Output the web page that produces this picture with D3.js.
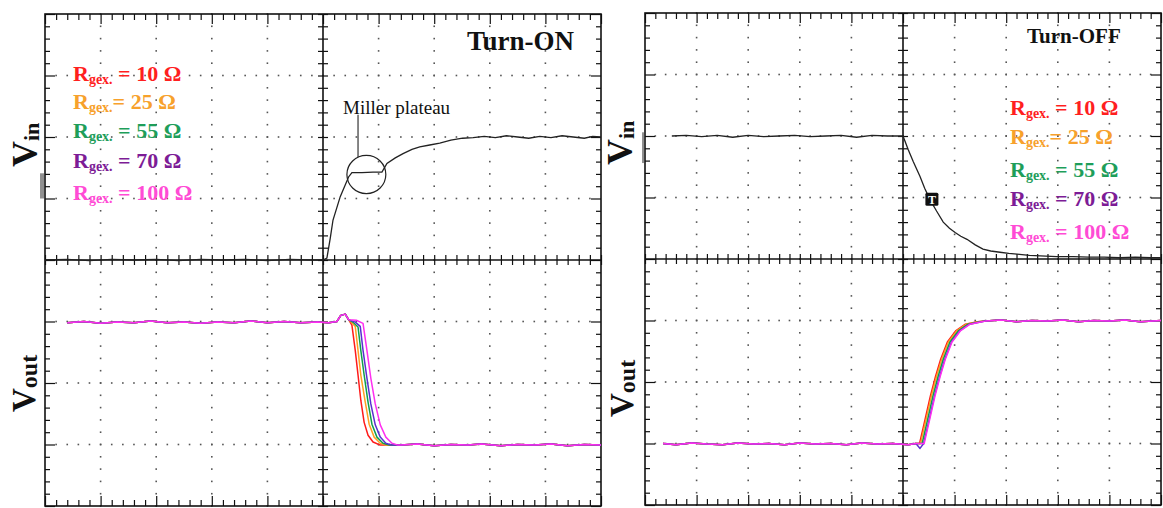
<!DOCTYPE html>
<html>
<head>
<meta charset="utf-8">
<script src="https://cdn.jsdelivr.net/npm/d3@7"></script>
<style>
  html, body { margin: 0; padding: 0; background: #fff; }
  svg { display: block; }
  text { font-family: "Liberation Serif", "Times New Roman", serif; }
</style>
</head>
<body>
<svg id="chart" width="1163" height="508"></svg>
<script>
// ---- Data (time and voltage in screen divisions) ----
const gateResistors = ["10", "25", "55", "70", "100"];
const legendEquals  = [" = ", "= ", " = ", " = ", " = "];
const legendColors  = ["#ff1f1f", "#f7a12c", "#1e9e5a", "#7d1c96", "#ff4bd5"];
const traceColors   = ["#ff1a1a", "#ff9f22", "#109e4c", "#5b2fd0", "#ff2ef0"];

// Gate drive voltage, turn-on
const vinTurnOn = [[0.00,0.00],[0.40,0.01],[0.80,-0.01],[1.20,0.01],[1.60,0.00],[2.00,0.01],[2.40,-0.01],
  [2.80,0.01],[3.20,0.00],[3.60,0.01],[4.00,-0.01],[4.40,0.01],[4.80,0.00],[5.00,0.00],[5.07,0.03],
  [5.13,0.35],[5.18,0.65],[5.31,1.03],[5.46,1.35],[5.52,1.42],[5.70,1.42],[5.90,1.43],[6.06,1.43],
  [6.15,1.57],[6.30,1.66],[6.44,1.73],[6.60,1.80],[6.74,1.84],[6.92,1.87],[7.10,1.90],[7.30,1.95],
  [7.51,1.98],[7.70,1.99],[7.90,2.01],[8.10,1.99],[8.30,2.02],[8.50,2.00],[8.70,1.98],[8.90,2.01],
  [9.10,1.99],[9.30,2.02],[9.50,2.00],[9.70,1.98],[9.85,2.01],[10.00,2.00]];

// Gate drive voltage, turn-off
const vinTurnOff = [[0.52,2.00],[0.80,2.01],[1.10,1.99],[1.40,2.01],[1.70,1.98],[2.00,2.01],[2.30,1.99],
  [2.60,2.00],[2.90,2.01],[3.20,1.99],[3.50,2.00],[3.80,2.01],[4.10,1.98],[4.40,2.01],[4.70,2.00],
  [5.00,2.00],[5.10,1.78],[5.20,1.58],[5.33,1.34],[5.42,1.15],[5.52,0.97],[5.65,0.78],[5.78,0.60],
  [5.90,0.50],[6.01,0.43],[6.12,0.37],[6.24,0.32],[6.40,0.23],[6.55,0.16],[6.70,0.13],[6.88,0.11],
  [7.05,0.09],[7.21,0.08],[7.45,0.06],[7.66,0.05],[7.98,0.04],[8.30,0.04],[8.60,0.03],[8.90,0.03],
  [9.20,0.02],[9.50,0.03],[9.80,0.02],[10.00,0.02]];

// Output voltage, turn-on: common high level, per-resistor falling edge, common low level
const voutOnBefore = [[0.40,-1.02],[0.70,-1.00],[1.00,-1.03],[1.30,-1.01],[1.60,-1.02],[1.90,-0.99],
  [2.20,-1.02],[2.50,-1.01],[2.80,-1.03],[3.10,-1.01],[3.40,-1.02],[3.70,-0.99],[4.00,-1.02],
  [4.30,-1.00],[4.60,-1.02],[4.90,-1.01],[5.10,-1.02],[5.25,-1.00],[5.32,-0.90],[5.40,-0.88],[5.46,-0.97]];
const voutOnEdges = [
  [[5.52,-1.06],[5.58,-1.47],[5.63,-1.87],[5.68,-2.28],[5.74,-2.64],[5.81,-2.85],[5.90,-2.96],[6.03,-3.01]],
  [[5.52,-1.02],[5.58,-1.08],[5.63,-1.47],[5.68,-1.87],[5.76,-2.31],[5.83,-2.67],[5.92,-2.88],[6.03,-2.98],[6.13,-3.01]],
  [[5.55,-1.02],[5.63,-1.09],[5.68,-1.47],[5.74,-1.87],[5.81,-2.31],[5.88,-2.67],[5.97,-2.88],[6.08,-2.98],[6.19,-3.01]],
  [[5.58,-1.01],[5.67,-1.08],[5.72,-1.47],[5.79,-1.92],[5.86,-2.34],[5.94,-2.68],[6.03,-2.88],[6.13,-2.98],[6.24,-3.01]],
  [[5.60,-0.98],[5.72,-1.03],[5.79,-1.47],[5.86,-1.92],[5.94,-2.34],[6.03,-2.68],[6.13,-2.88],[6.24,-2.98],[6.35,-3.01]]
];
const voutOnAfter = [[6.40,-3.01],[6.70,-2.99],[7.00,-3.02],[7.30,-3.00],[7.60,-3.01],[7.85,-2.99],
  [8.20,-3.02],[8.50,-3.00],[8.80,-3.01],[9.10,-2.99],[9.40,-3.02],[9.70,-3.00],[10.00,-3.01]];

// Output voltage, turn-off: common low level, per-resistor rising edge, common high level
const voutOffBefore = [[0.35,-3.00],[0.60,-3.02],[0.90,-2.99],[1.20,-3.01],[1.50,-3.02],[1.80,-2.99],
  [2.10,-3.01],[2.40,-3.00],[2.70,-3.02],[3.00,-2.99],[3.30,-3.01],[3.60,-3.00],[3.90,-3.02],
  [4.20,-2.99],[4.50,-3.01],[4.80,-3.00],[5.10,-3.02],[5.25,-3.00]];
const voutOffEdges = [
  [[5.32,-3.00],[5.34,-2.93],[5.43,-2.60],[5.53,-2.23],[5.63,-1.91],[5.73,-1.63],[5.86,-1.35],[6.02,-1.17],[6.21,-1.06],[6.44,-1.02]],
  [[5.34,-3.00],[5.36,-2.93],[5.45,-2.60],[5.55,-2.23],[5.65,-1.91],[5.75,-1.63],[5.88,-1.35],[6.04,-1.17],[6.23,-1.06],[6.46,-1.02]],
  [[5.37,-3.00],[5.39,-2.93],[5.48,-2.60],[5.58,-2.23],[5.68,-1.91],[5.78,-1.63],[5.91,-1.35],[6.07,-1.17],[6.26,-1.06],[6.49,-1.02]],
  [[5.33,-3.08],[5.40,-3.00],[5.42,-2.93],[5.51,-2.60],[5.61,-2.23],[5.71,-1.91],[5.81,-1.63],[5.94,-1.35],[6.10,-1.17],[6.29,-1.06],[6.52,-1.02]],
  [[5.41,-3.00],[5.43,-2.93],[5.52,-2.60],[5.62,-2.23],[5.72,-1.91],[5.82,-1.63],[5.95,-1.35],[6.11,-1.17],[6.30,-1.06],[6.53,-1.02]]
];
const voutOffAfter = [[6.60,-1.01],[6.90,-0.99],[7.20,-1.02],[7.50,-1.00],[7.80,-1.01],[8.10,-0.99],
  [8.40,-1.02],[8.70,-1.00],[9.00,-1.01],[9.30,-0.99],[9.60,-1.02],[10.00,-1.00]];

// Annotation anchors (divisions)
const millerPlateau = { t: 5.78, v: 1.39, rt: 0.35, rv: 0.31, leaderT: 5.63, labelV: 2.36 };
const cursorMarker  = { t: 5.56, v: 0.97 };

// ---- Layout ----
const svg = d3.select("#chart");
const panels = [
  { id: "on",  x0: 45,  x1: 601,  y0: 14, y1: 506 },
  { id: "off", x0: 645, x1: 1161, y0: 13, y1: 505 }
];
panels.forEach(p => {
  p.x = d3.scaleLinear().domain([0, 10]).range([p.x0, p.x1]);
  p.y = d3.scaleLinear().domain([-4, 4]).range([p.y1, p.y0]);
});

const minorX = d3.range(0, 51).map(k => k / 5);
const minorY = d3.range(-20, 21).map(k => k / 5);
const majorX = d3.range(0, 11);
const majorY = d3.range(-4, 5);

function tickAxis(g, axis, values, size) {
  g.call(axis.tickValues(values).tickSize(size).tickSizeOuter(0).tickFormat(""))
   .call(s => s.select(".domain").remove())
   .call(s => s.selectAll("line").attr("stroke", "#111").attr("stroke-width", 1.2));
}

function drawFrame(p) {
  const g = svg.append("g");
  const { x, y } = p;

  // dotted graticule
  const dots = [];
  majorX.filter(d => d > 0 && d < 10 && d !== 5).forEach(xv =>
    minorY.forEach(yv => dots.push([xv, yv])));
  majorY.filter(d => d > -4 && d < 4 && d !== 0).forEach(yv =>
    minorX.forEach(xv => { if (xv > 0 && xv < 10) dots.push([xv, yv]); }));
  g.append("g").selectAll("rect").data(dots).join("rect")
    .attr("x", d => x(d[0]) - 0.8).attr("y", d => y(d[1]) - 0.8)
    .attr("width", 1.6).attr("height", 1.6).attr("fill", "#555");

  // border ticks
  const minorOnlyX = minorX.filter(v => Math.abs(v - Math.round(v)) > 1e-6);
  const minorOnlyY = minorY.filter(v => Math.abs(v - Math.round(v)) > 1e-6);
  tickAxis(g.append("g").attr("transform", `translate(0,${p.y0})`), d3.axisBottom(x), minorOnlyX, 6);
  tickAxis(g.append("g").attr("transform", `translate(0,${p.y0})`), d3.axisBottom(x), majorX, 10);
  tickAxis(g.append("g").attr("transform", `translate(0,${p.y1})`), d3.axisTop(x), minorOnlyX, 6);
  tickAxis(g.append("g").attr("transform", `translate(0,${p.y1})`), d3.axisTop(x), majorX, 10);
  tickAxis(g.append("g").attr("transform", `translate(${p.x0},0)`), d3.axisRight(y), minorOnlyY, 5);
  tickAxis(g.append("g").attr("transform", `translate(${p.x0},0)`), d3.axisRight(y), majorY, 10);
  tickAxis(g.append("g").attr("transform", `translate(${p.x1},0)`), d3.axisLeft(y), minorOnlyY, 5);
  tickAxis(g.append("g").attr("transform", `translate(${p.x1},0)`), d3.axisLeft(y), majorY, 10);

  // centre axes with crossing ticks
  tickAxis(g.append("g").attr("transform", `translate(0,${y(0)})`), d3.axisTop(x), minorX, 5);
  tickAxis(g.append("g").attr("transform", `translate(0,${y(0)})`), d3.axisBottom(x), minorX, 5);
  tickAxis(g.append("g").attr("transform", `translate(${x(5)},0)`), d3.axisLeft(y), minorY, 5);
  tickAxis(g.append("g").attr("transform", `translate(${x(5)},0)`), d3.axisRight(y), minorY, 5);

  g.append("line").attr("x1", p.x0).attr("x2", p.x1).attr("y1", y(0)).attr("y2", y(0))
    .attr("stroke", "#111").attr("stroke-width", 1.6);
  g.append("line").attr("x1", x(5)).attr("x2", x(5)).attr("y1", p.y0).attr("y2", p.y1)
    .attr("stroke", "#111").attr("stroke-width", 1.6);
  g.append("rect").attr("x", p.x0).attr("y", p.y0)
    .attr("width", p.x1 - p.x0).attr("height", p.y1 - p.y0)
    .attr("fill", "none").attr("stroke", "#111").attr("stroke-width", 1.6);
}

panels.forEach(drawFrame);

function lineFor(p) {
  return d3.line().x(d => p.x(d[0])).y(d => p.y(d[1]));
}

// clip traces to each screen
panels.forEach(p => {
  svg.append("clipPath").attr("id", "clip-" + p.id)
    .append("rect").attr("x", p.x0).attr("y", p.y0)
    .attr("width", p.x1 - p.x0).attr("height", p.y1 - p.y0);
});

const [pOn, pOff] = panels;

// Vout traces
const gOnTr = svg.append("g").attr("clip-path", "url(#clip-on)");
voutOnEdges.forEach((edge, i) => {
  gOnTr.append("path")
    .attr("d", lineFor(pOn)(voutOnBefore.concat(edge, voutOnAfter)))
    .attr("fill", "none").attr("stroke", traceColors[i]).attr("stroke-width", 1.5)
    .attr("stroke-linejoin", "round");
});
const gOffTr = svg.append("g").attr("clip-path", "url(#clip-off)");
voutOffEdges.forEach((edge, i) => {
  gOffTr.append("path")
    .attr("d", lineFor(pOff)(voutOffBefore.concat(edge, voutOffAfter)))
    .attr("fill", "none").attr("stroke", traceColors[i]).attr("stroke-width", 1.5)
    .attr("stroke-linejoin", "round");
});

// Vin traces
gOnTr.append("path").attr("d", lineFor(pOn)(vinTurnOn))
  .attr("fill", "none").attr("stroke", "#222").attr("stroke-width", 1.3);
gOffTr.append("path").attr("d", lineFor(pOff)(vinTurnOff))
  .attr("fill", "none").attr("stroke", "#222").attr("stroke-width", 1.3);

// Miller plateau annotation
const mcx = pOn.x(millerPlateau.t), mcy = pOn.y(millerPlateau.v);
const mrx = pOn.x(millerPlateau.t + millerPlateau.rt) - mcx;
const mry = pOn.y(millerPlateau.v - millerPlateau.rv) - mcy;
svg.append("ellipse").attr("cx", mcx).attr("cy", mcy).attr("rx", mrx).attr("ry", mry)
  .attr("fill", "none").attr("stroke", "#222").attr("stroke-width", 1.2);
const lx = pOn.x(millerPlateau.leaderT);
svg.append("line").attr("x1", lx).attr("x2", lx)
  .attr("y1", mcy - Math.sqrt(Math.max(0, 1 - ((lx - mcx) / mrx) ** 2)) * mry)
  .attr("y2", pOn.y(millerPlateau.labelV))
  .attr("stroke", "#222").attr("stroke-width", 1.1);
svg.append("text").attr("x", lx - 15).attr("y", pOn.y(millerPlateau.labelV) - 1)
  .attr("font-size", 19).attr("fill", "#111").text("Miller plateau");

// cursor marker on the turn-off gate trace
const cmx = pOff.x(cursorMarker.t), cmy = pOff.y(cursorMarker.v);
svg.append("rect").attr("x", cmx - 6.5).attr("y", cmy - 6.5).attr("width", 13).attr("height", 13)
  .attr("rx", 1.5).attr("fill", "#111");
svg.append("text").attr("x", cmx).attr("y", cmy + 4.5).attr("text-anchor", "middle")
  .attr("font-family", "Liberation Sans, Arial, sans-serif").attr("font-weight", "bold")
  .attr("font-size", 12).attr("fill", "#fff").text("T");

// channel offset markers beside the screens
[[pOn, 1.41, 1.0, [-4, -2]], [pOff, 2.06, 1.56, [-2]]].forEach(([p, a, b, offs]) => {
  offs.forEach(o => svg.append("line").attr("x1", p.x0 + o).attr("x2", p.x0 + o)
    .attr("y1", p.y(a)).attr("y2", p.y(b)).attr("stroke", "#222").attr("stroke-width", 1));
});

// titles
svg.append("text").attr("x", 467).attr("y", 50).attr("font-size", 27).attr("font-weight", "bold")
  .attr("fill", "#111").text("Turn-ON");
svg.append("text").attr("x", 1027).attr("y", 43).attr("font-size", 21).attr("font-weight", "bold")
  .attr("fill", "#111").text("Turn-OFF");

// channel labels
function channelLabel(x, y, main, sub, mainSize, subSize) {
  const t = svg.append("text").attr("transform", `translate(${x},${y}) rotate(-90)`)
    .attr("font-weight", "bold").attr("fill", "#111");
  t.append("tspan").attr("font-size", mainSize).text(main);
  t.append("tspan").attr("font-size", subSize).attr("dy", 2).text(sub);
}
channelLabel(37, 167, "V", "in", 36, 22);
channelLabel(35, 412, "V", "out", 33, 24);
channelLabel(632, 165, "V", "in", 36, 22);
channelLabel(633, 417, "V", "out", 33, 24);

// legends
function legend(x, baselines, size, subSize) {
  gateResistors.forEach((r, i) => {
    const t = svg.append("text").attr("x", x).attr("y", baselines[i])
      .attr("font-weight", "bold").attr("font-size", size).attr("fill", legendColors[i]);
    t.append("tspan").text("R");
    t.append("tspan").attr("font-size", subSize).attr("dy", 3).text("gex.");
    t.append("tspan").attr("dy", -3).text(legendEquals[i] + r + " Ω");
  });
}
legend(73, [81, 109, 138, 168, 200], 22, 14);
legend(1010, [115, 144, 177, 206, 239], 22, 14);
</script>
</body>
</html>
